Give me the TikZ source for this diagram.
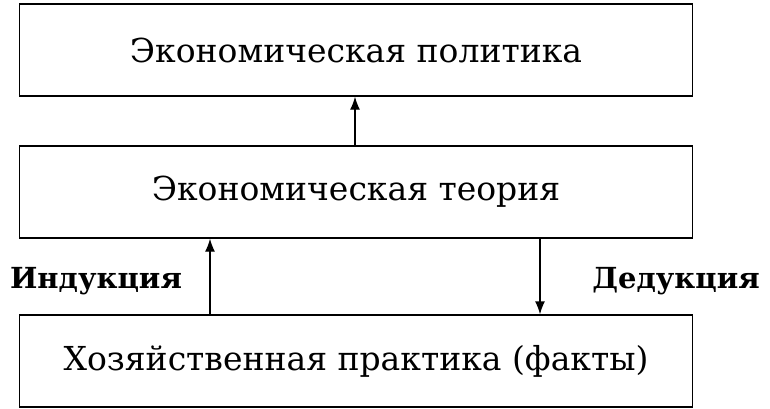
\documentclass[tikz,border=0pt]{standalone}
\usepackage{fontspec}
\setmainfont{DejaVu Serif}
\usetikzlibrary{arrows.meta}
\begin{document}
\begin{tikzpicture}[x=1pt,y=-1pt,
 box/.style={draw,line width=1.3pt,minimum width=673pt,minimum height=92pt,font=\fontsize{33}{38}\selectfont,inner sep=0pt},
 arr/.style={-{Latex[length=13pt,width=10pt]},line width=1.3pt},
 lab/.style={font=\bfseries\fontsize{29}{34}\selectfont}]
\useasboundingbox (0,0) rectangle (770,408);
\node[box] (top) at (356,50) {Экономическая политика};
\node[box] (mid) at (356,192) {Экономическая теория};
\node[box] (bot) at (356,361) {Хозяйственная практика (факты)};
\draw[arr] (mid.north -| 355,0) -- (top.south -| 355,0);
\draw[arr] (bot.north -| 210,0) -- (mid.south -| 210,0);
\draw[arr] (mid.south -| 540,0) -- (bot.north -| 540,0);
\node[lab] (ind) at (96,281) {Индукция};
\node[lab] (ded) at (676,281) {Дедукция};
\end{tikzpicture}
\end{document}
